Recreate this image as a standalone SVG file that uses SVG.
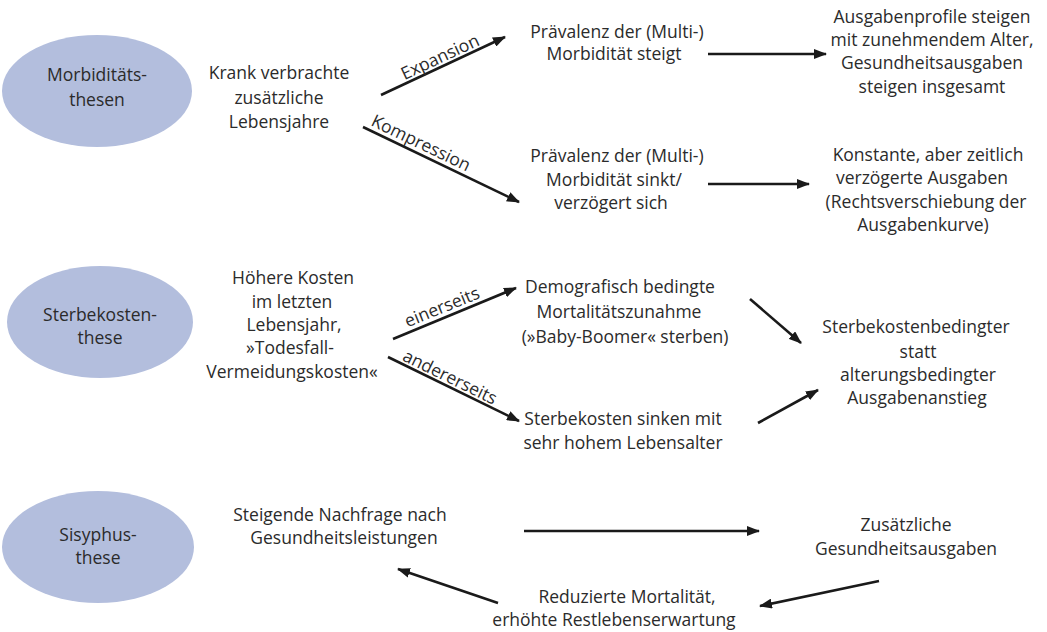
<svg xmlns="http://www.w3.org/2000/svg" width="1047" height="632" viewBox="0 0 1047 632">
<defs>
<marker id="ah" viewBox="0 0 13 10" refX="12" refY="5" markerWidth="13" markerHeight="10" markerUnits="userSpaceOnUse" orient="auto">
<path d="M0,0 L13,5 L0,10 Z" fill="#1a1a1a"/>
</marker>
<style>
text{font-family:"Open Sans","Noto Sans",sans-serif;font-size:17.5px;fill:#2b2b2b;text-anchor:middle}
.oval{fill:#b3bedd}
.c{stroke:#1a1a1a;stroke-width:2.6;fill:none;marker-end:url(#ah)}
</style>
</defs>
<rect width="1047" height="632" fill="#fff"/>
<g id="n-morb"><ellipse class="oval" cx="97" cy="91" rx="95" ry="56"/><text x="97" y="81">Morbiditäts-</text><text x="97" y="106">thesen</text></g>
<g id="n-krank"><text x="279" y="79">Krank verbrachte</text><text x="279" y="104">zusätzliche</text><text x="279" y="128">Lebensjahre</text></g>
<g id="n-prae1"><text x="617" y="38">Prävalenz der (Multi-)</text><text x="614" y="60">Morbidität steigt</text></g>
<g id="n-ausg1"><text x="932" y="23">Ausgabenprofile steigen</text><text x="932" y="46">mit zunehmendem Alter,</text><text x="932" y="69">Gesundheitsausgaben</text><text x="932" y="93">steigen insgesamt</text></g>
<g id="n-prae2"><text x="617" y="162">Prävalenz der (Multi-)</text><text x="614" y="186">Morbidität sinkt/</text><text x="611" y="209">verzögert sich</text></g>
<g id="n-konst"><text x="928" y="161">Konstante, aber zeitlich</text><text x="922" y="184">verzögerte Ausgaben</text><text x="926" y="208">(Rechtsverschiebung der</text><text x="923" y="231">Ausgabenkurve)</text></g>
<g id="n-sterb"><ellipse class="oval" cx="100" cy="322" rx="93" ry="56"/><text x="100" y="321">Sterbekosten-</text><text x="100" y="344">these</text></g>
<g id="n-hoeh"><text x="293" y="284">Höhere Kosten</text><text x="292" y="308">im letzten</text><text x="294" y="331">Lebensjahr,</text><text x="290" y="354">»Todesfall-</text><text x="292" y="378">Vermeidungskosten«</text></g>
<g id="n-demo"><text x="620" y="293">Demografisch bedingte</text><text x="619" y="318">Mortalitätszunahme</text><text x="625" y="343">(»Baby-Boomer«  sterben)</text></g>
<g id="n-sink"><text x="623" y="425">Sterbekosten sinken mit</text><text x="623" y="449">sehr hohem Lebensalter</text></g>
<g id="n-sbed"><text x="916" y="333">Sterbekostenbedingter</text><text x="918" y="358">statt</text><text x="918" y="381">alterungsbedingter</text><text x="917" y="404">Ausgabenanstieg</text></g>
<g id="n-sisy"><ellipse class="oval" cx="98" cy="547" rx="96" ry="56"/><text x="98" y="541">Sisyphus-</text><text x="98" y="564">these</text></g>
<g id="n-steig"><text x="340" y="521">Steigende Nachfrage nach</text><text x="344" y="544">Gesundheitsleistungen</text></g>
<g id="n-zus"><text x="906" y="531">Zusätzliche</text><text x="906" y="555">Gesundheitsausgaben</text></g>
<g id="n-red"><text x="627" y="603">Reduzierte Mortalität,</text><text x="614" y="626">erhöhte Restlebenserwartung</text></g>
<g id="connectors">
<path class="c" d="M381,95 L505,37"/>
<path class="c" d="M363,127 L519,202"/>
<path class="c" d="M708,54 L826,54"/>
<path class="c" d="M708,184 L809,184"/>
<path class="c" d="M393,339 L516,288"/>
<path class="c" d="M388,357 L519,421"/>
<path class="c" d="M750,299 L801,343"/>
<path class="c" d="M758,423 L818,390"/>
<path class="c" d="M524,531 L759,531"/>
<path class="c" d="M879,581 L760,606"/>
<path class="c" d="M498,603 L398,569"/>
<text transform="translate(440,57) rotate(-25)" y="6">Expansion</text>
<text transform="translate(421,143) rotate(25.7)" y="6">Kompression</text>
<text transform="translate(442,307) rotate(-22)" y="6">einerseits</text>
<text transform="translate(450,377) rotate(26)" y="6">andererseits</text>
</g>
</svg>
